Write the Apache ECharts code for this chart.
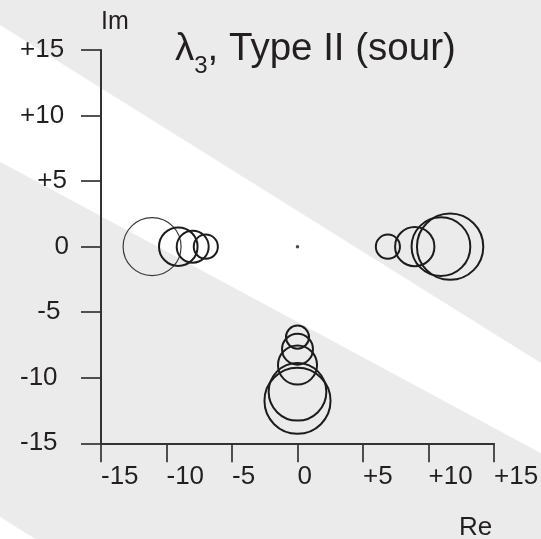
<!DOCTYPE html>
<html>
<head>
<meta charset="utf-8">
<script src="https://cdn.jsdelivr.net/npm/echarts@6/dist/echarts.min.js"></script>
<style>
  html, body { margin: 0; padding: 0; background: #ebebeb; }
  #chart { width: 541px; height: 539px; }
</style>
</head>
<body>
<div id="chart"></div>
<script>
// Eigenvalue cluster centres in the complex plane (Re, Im)
const reValues = [-11.1, -9.1, -8.0, -7.0, 6.9, 8.95, 10.95, 11.65, 0, 0, 0, 0, 0];
const imValues = [0, 0, 0, 0, 0, 0, 0, 0, -6.9, -7.82, -9.03, -11.07, -11.76];
// Spread of each cluster in axis units, drawn as the ring radius
const spreadValues = [2.21, 1.47, 1.22, 0.92, 0.92, 1.50, 2.24, 2.53, 0.88, 1.18, 1.49, 2.2, 2.52];
// Origin marker
const originPoint = [0, 0];

const xTickLabels = ['-15', '-10', '-5', '0', '+5', '+10', '+15'];
const yTickLabels = ['-15', '-10', '-5', '0', '+5', '+10', '+15'];

const FONT = '"Liberation Sans", Arial, Helvetica, sans-serif';
const INK = '#231f20';
const AXIS = '#333333';
const LABEL_SIZE = 26;

const GRID = { left: 101, top: 50, width: 393, height: 393.3 };
const unitPx = GRID.height / 30;

const tickLabel = (labels, v) => labels[Math.round((v + 15) / 5)];

const ringData = reValues.map((re, i) => {
  const item = { value: [re, imValues[i], spreadValues[i]] };
  if (i === 0) {
    item.itemStyle = { borderWidth: 1.2, borderColor: '#3a3a3a' };
  }
  return item;
});

const chart = echarts.init(document.getElementById('chart'), null, { renderer: 'canvas' });

chart.setOption({
  backgroundColor: '#ebebeb',
  animation: false,
  graphic: [
    {
      type: 'polygon', z: -10, silent: true,
      shape: { points: [[0, 25], [541, 363.1], [541, 453.3], [0, 161.7]] },
      style: { fill: '#ffffff' }
    },
    {
      type: 'polygon', z: -10, silent: true,
      shape: { points: [[0, 516.7], [36, 539.5], [0, 539.5]] },
      style: { fill: '#ffffff' }
    }
  ],
  title: {
    text: '{m|λ}{s|3}{m|, Type II (sour)}',
    left: 175,
    top: 21,
    padding: 0,
    textStyle: {
      fontWeight: 'normal',
      rich: {
        m: { fontSize: 38.5, fontFamily: FONT, fontWeight: 'normal', color: INK },
        s: { fontSize: 24, fontFamily: FONT, fontWeight: 'normal', color: INK, padding: [33, 0, 0, 0] }
      }
    }
  },
  grid: {
    left: GRID.left, top: GRID.top, width: GRID.width, height: GRID.height,
    containLabel: false,
    outerBoundsMode: 'none'
  },
  xAxis: {
    type: 'value',
    min: -15, max: 15, interval: 5,
    name: 'Re',
    nameLocation: 'end',
    nameGap: -35,
    nameMoveOverlap: false,
    nameTextStyle: {
      fontSize: 26, fontFamily: FONT, color: INK,
      align: 'left', verticalAlign: 'top', padding: [72, 0, 0, 0]
    },
    axisLine: { show: true, onZero: false, lineStyle: { color: AXIS, width: 2 } },
    axisTick: { show: true, inside: false, length: 19, lineStyle: { color: AXIS, width: 1.7 } },
    splitLine: { show: false },
    axisLabel: {
      show: true,
      margin: 21,
      align: 'left',
      fontSize: LABEL_SIZE, fontFamily: FONT, color: INK,
      showMinLabel: true, showMaxLabel: true,
      hideOverlap: false,
      formatter: (v) => tickLabel(xTickLabels, v)
    }
  },
  yAxis: {
    type: 'value',
    min: -15, max: 15, interval: 5,
    name: 'Im',
    nameLocation: 'end',
    nameGap: 15,
    nameMoveOverlap: false,
    nameTextStyle: {
      fontSize: 25, fontFamily: FONT, color: INK,
      align: 'left', verticalAlign: 'bottom'
    },
    axisLine: { show: true, onZero: false, lineStyle: { color: AXIS, width: 2 } },
    axisTick: { show: true, inside: false, length: 20, lineStyle: { color: AXIS, width: 1.7 } },
    splitLine: { show: false },
    axisLabel: {
      show: true,
      margin: 81,
      align: 'left',
      showMinLabel: true, showMaxLabel: true,
      hideOverlap: false,
      formatter: (v) => {
        const s = tickLabel(yTickLabels, v);
        return '{c' + s.length + '|' + s + '}';
      },
      rich: {
        c3: { fontSize: LABEL_SIZE, fontFamily: FONT, color: INK },
        c2: { fontSize: LABEL_SIZE, fontFamily: FONT, color: INK, padding: [0, 0, 0, 17.3] },
        c1: { fontSize: LABEL_SIZE, fontFamily: FONT, color: INK, padding: [0, 0, 0, 34.5] }
      }
    }
  },
  series: [
    {
      name: 'clusters',
      type: 'scatter',
      symbol: 'circle',
      symbolSize: (val) => 2 * val[2] * unitPx,
      itemStyle: { color: 'rgba(0,0,0,0)', borderColor: '#1c1c1c', borderWidth: 2, opacity: 1 },
      emphasis: { disabled: true },
      silent: true,
      data: ringData
    },
    {
      name: 'origin',
      type: 'scatter',
      symbol: 'circle',
      symbolSize: 3.5,
      itemStyle: { color: '#1c1c1c' },
      emphasis: { disabled: true },
      silent: true,
      data: [originPoint]
    }
  ]
});
</script>
</body>
</html>
